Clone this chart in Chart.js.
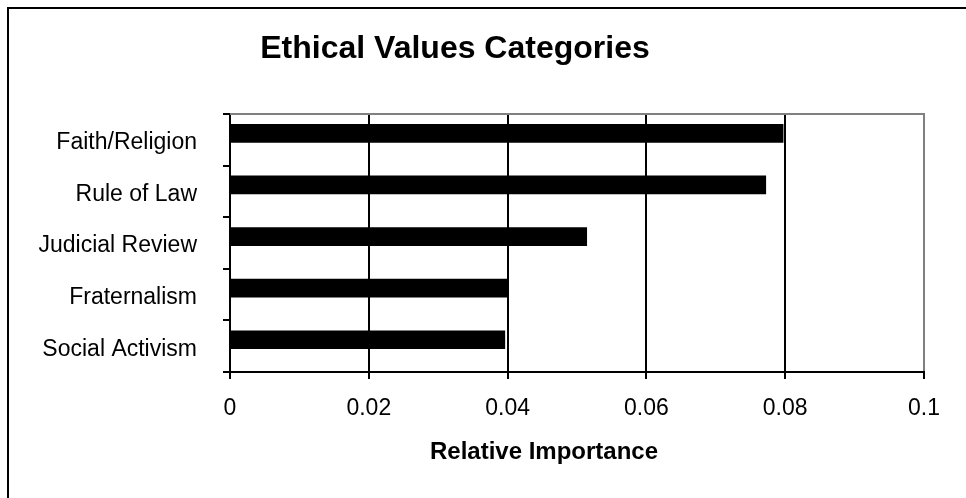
<!DOCTYPE html>
<html><head><meta charset="utf-8">
<script src="https://cdn.jsdelivr.net/npm/chart.js@4"></script>
<style>html,body{margin:0;padding:0;background:#fff;}#wrap{position:relative;width:966px;height:498px;}</style>
</head><body><div id="wrap"><canvas id="c" width="966" height="498"></canvas></div>
<script>
const chartTitle = 'Ethical Values Categories';
const xAxisTitle = 'Relative Importance';
const categories = ['Faith/Religion', 'Rule of Law', 'Judicial Review', 'Fraternalism', 'Social Activism'];
const importance = [0.0797, 0.0772, 0.0514, 0.0399, 0.0396];
const xTickValues = [0, 0.02, 0.04, 0.06, 0.08, 0.1];
const xTickLabels = ['0', '0.02', '0.04', '0.06', '0.08', '0.1'];

const FONT = "'Liberation Sans', Arial, sans-serif";
const GRAY = '#808080';

const decorPlugin = {
  id: 'decor',
  beforeDraw(chart) {
    const ctx = chart.ctx;
    ctx.save();
    ctx.fillStyle = '#fff';
    ctx.fillRect(0, 0, chart.width, chart.height);
    ctx.fillStyle = '#000';
    ctx.fillRect(7, 7, 2, chart.height - 7);
    ctx.fillRect(7, 7, chart.width - 7, 2);
    ctx.restore();
  },
  afterDatasetsDraw(chart) {
    const ctx = chart.ctx;
    const a = chart.chartArea;
    ctx.save();
    ctx.strokeStyle = GRAY;
    ctx.lineWidth = 2;
    ctx.beginPath();
    ctx.moveTo(a.left, a.top);
    ctx.lineTo(a.right + 1, a.top);
    ctx.stroke();
    ctx.restore();
  },
  afterDraw(chart) {
    const ctx = chart.ctx;
    ctx.save();
    ctx.fillStyle = '#000';
    ctx.textAlign = 'center';
    ctx.textBaseline = 'alphabetic';
    ctx.font = "bold 32px " + FONT;
    ctx.fillText(chartTitle, 455, 58);
    ctx.font = "bold 24px " + FONT;
    ctx.fillText(xAxisTitle, 544, 459);
    ctx.restore();
  }
};

new Chart(document.getElementById('c'), {
  type: 'bar',
  data: {
    datasets: [{
      data: categories.map((c, i) => ({ x: importance[i], y: i })),
      xAxisID: 'x',
      yAxisID: 'yb',
      backgroundColor: '#000',
      borderWidth: 0,
      barThickness: 18
    }]
  },
  options: {
    indexAxis: 'y',
    responsive: false,
    animation: false,
    devicePixelRatio: 1,
    layout: { padding: { top: 114, right: 42, left: 0, bottom: 0 } },
    plugins: { legend: { display: false }, title: { display: false }, tooltip: { enabled: false } },
    scales: {
      x: {
        type: 'linear', position: 'bottom', min: 0, max: 0.1,
        afterBuildTicks: s => { s.ticks = xTickValues.map(v => ({ value: v })); },
        ticks: { callback: (v, i) => xTickLabels[i], font: { family: FONT, size: 23 }, color: '#000', padding: 16, maxRotation: 0, autoSkip: false },
        grid: {
          color: c => (c.tick && c.tick.value >= 0.0999) ? GRAY : '#000',
          lineWidth: 2, drawTicks: true, tickLength: 7, tickColor: '#000', tickWidth: 2
        },
        border: { display: true, color: '#000', width: 2 },
        afterFit: s => { s.height = 126; }
      },
      y: {
        type: 'category', labels: categories, position: 'left', offset: true,
        ticks: { font: { family: FONT, size: 23 }, color: '#000', padding: 26, autoSkip: false, labelOffset: 3 },
        grid: { offset: true, drawOnChartArea: false, drawTicks: true, tickLength: 7, tickColor: '#000', tickWidth: 2, lineWidth: 2, color: '#000' },
        border: { display: true, color: '#000', width: 2 },
        afterFit: s => { s.width = 230; }
      },
      yb: {
        type: 'linear', display: false, position: 'left', min: -0.375, max: 4.625, reverse: true, offset: false,
        grid: { offset: false }
      }
    }
  },
  plugins: [decorPlugin]
});
</script></body></html>
